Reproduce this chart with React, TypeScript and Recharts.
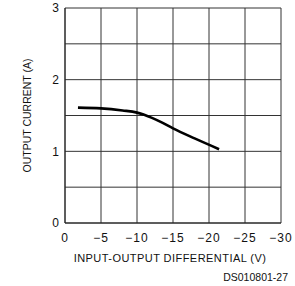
import React from 'react';
import { LineChart, Line, XAxis, YAxis, CartesianGrid } from 'recharts';

const differentialV = [-1.8, -5, -8, -10, -11, -12, -13.5, -15, -18, -21.4];
const outputCurrentA = [1.61, 1.6, 1.57, 1.54, 1.51, 1.47, 1.4, 1.32, 1.18, 1.03];
const xTicks = [0, -5, -10, -15, -20, -25, -30];
const yTicks = [0, 0.5, 1, 1.5, 2, 2.5, 3];
const yLabelTicks = [0, 1, 2, 3];

const data = differentialV.map((v, i) => ({ v, i: outputCurrentA[i] }));

const FONT = '"Liberation Sans", Arial, sans-serif';

export default function App() {
  return (
    <div style={{ position: 'absolute', left: 0, top: 0, background: '#fff' }}>
      <LineChart width={295} height={286} data={data} margin={{ top: 8, right: 14, bottom: 0, left: 0 }}>
        <CartesianGrid stroke="#333" strokeWidth={1} />
        <XAxis
          dataKey="v"
          type="number"
          domain={[-30, 0]}
          reversed
          ticks={xTicks}
          height={63}
          tickSize={0}
          tickMargin={10}
          axisLine={{ stroke: '#222' }}
          tickFormatter={(t: number) => (t < 0 ? `\u2212${Math.abs(t)}` : String(t))}
          tick={{ fill: '#111', fontSize: 12, fontFamily: FONT, letterSpacing: 1 }}
          label={{
            content: (props: any) => {
              const vb = props.viewBox;
              return (
                <g>
                  <text x={vb.x + vb.width / 2 - 3} y={vb.y + 35} textAnchor="middle" dominantBaseline="central" fill="#111" fontSize={11} fontFamily={FONT} letterSpacing={0.45}>
                    INPUT-OUTPUT DIFFERENTIAL (V)
                  </text>
                  <text x={vb.x + vb.width + 7} y={vb.y + 54} textAnchor="end" dominantBaseline="central" fill="#111" fontSize={10.5} fontFamily={FONT}>
                    DS010801-27
                  </text>
                </g>
              );
            },
          }}
        />
        <YAxis
          type="number"
          domain={[0, 3]}
          ticks={yTicks}
          width={65}
          tickSize={0}
          tickMargin={6}
          axisLine={{ stroke: '#222' }}
          tickFormatter={(t: number) => (yLabelTicks.includes(t) ? String(t) : '')}
          tick={{ fill: '#111', fontSize: 12, fontFamily: FONT }}
          label={{
            content: (props: any) => {
              const vb = props.viewBox;
              const cx = vb.x + 27;
              const cy = vb.y + vb.height / 2;
              return (
                <text x={cx} y={cy} transform={`rotate(-90 ${cx} ${cy})`} textAnchor="middle" dominantBaseline="central" fill="#111" fontSize={10.5} fontFamily={FONT}>
                  OUTPUT CURRENT (A)
                </text>
              );
            },
          }}
        />
        <Line dataKey="i" type="monotone" stroke="#000" strokeWidth={2.6} dot={false} isAnimationActive={false} />
      </LineChart>
    </div>
  );
}
